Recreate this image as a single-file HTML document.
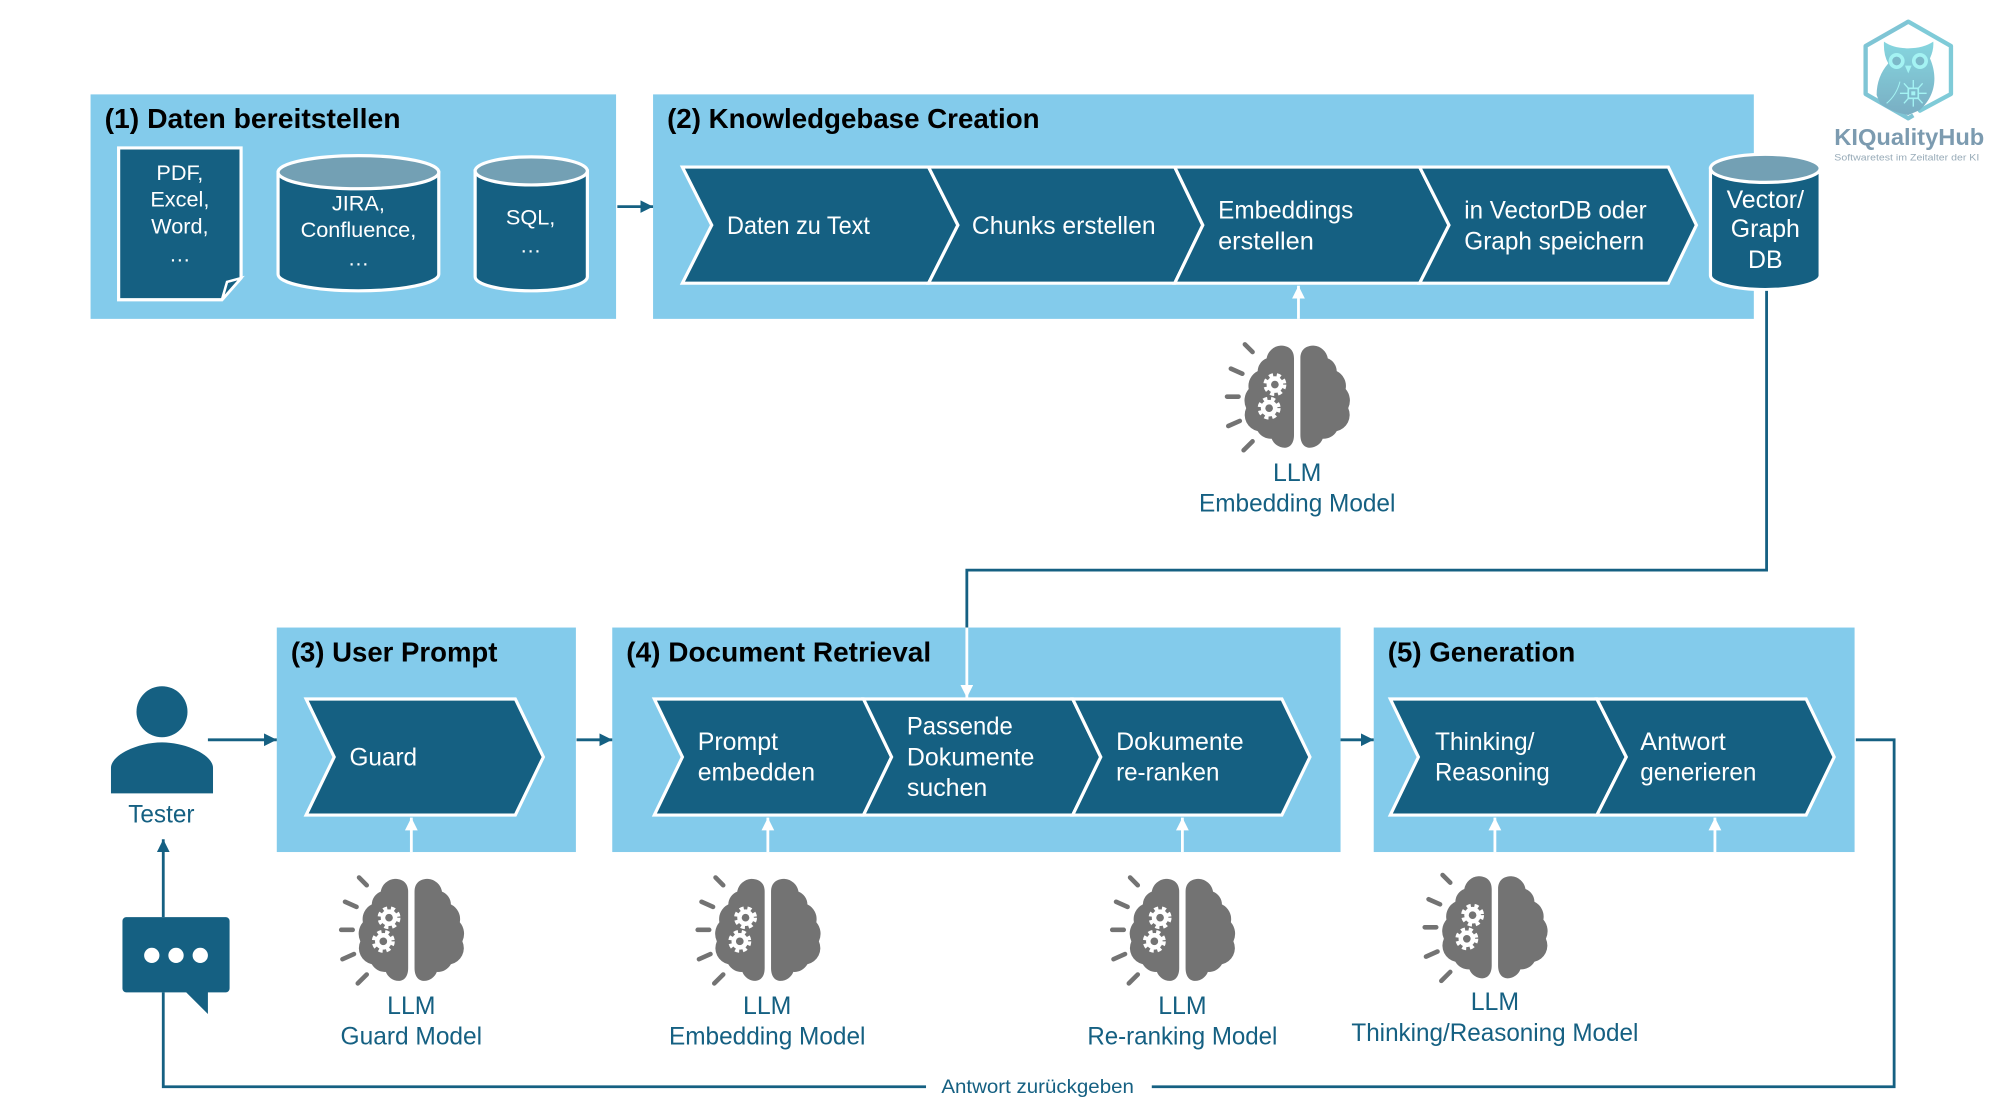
<!DOCTYPE html>
<html><head><meta charset="utf-8"><style>
html,body{margin:0;padding:0;background:#fff;width:2000px;height:1117px;overflow:hidden}
svg{display:block}
text{font-family:"Liberation Sans",sans-serif}
.t{font-weight:700;font-size:22px;fill:#000}
.w{font-size:19.5px;fill:#fff}
.s{font-size:17px;fill:#fff;text-anchor:middle}
.b{font-size:19.5px;fill:#156082;text-anchor:middle}
.c{fill:#156082;stroke:#fff;stroke-width:2.5}
.top{fill:#73A0B4;stroke:#fff;stroke-width:2.5}
.ln{fill:none;stroke:#156082;stroke-width:2.2}
.wl{fill:none;stroke:#fff;stroke-width:2.2}
</style></head><body>
<svg width="2000" height="1117" viewBox="0 0 1568 875.73" xmlns="http://www.w3.org/2000/svg">
<defs>
<marker id="ad" markerUnits="userSpaceOnUse" markerWidth="11" markerHeight="11" refX="10" refY="5" orient="auto"><path d="M0,0L10,5L0,10Z" fill="#156082"/></marker>
<marker id="aw" markerUnits="userSpaceOnUse" markerWidth="11" markerHeight="11" refX="10" refY="5" orient="auto"><path d="M0,0L10,5L0,10Z" fill="#fff"/></marker>
<linearGradient id="og" x1="0" y1="0" x2="0" y2="1"><stop offset="0" stop-color="#86d6df"/><stop offset="1" stop-color="#79aec3"/></linearGradient>
<g id="brain">
<path fill="#737373" d="M-2.5,-30C-2.5,-37 -7,-40 -13,-40A12,12 0 0 0 -24,-30A11,11 0 0 0 -31,-20A13,13 0 0 0 -38,-6A14,14 0 0 0 -40,9A13,13 0 0 0 -31,27A12,12 0 0 0 -20,33A11,11 0 0 0 -10,40C-6,40 -2.5,37 -2.5,30Z"/>
<path fill="#737373" d="M2.5,-30C2.5,-37 7,-40 13,-40A12,12 0 0 1 24,-30A11,11 0 0 1 31,-20A13,13 0 0 1 38,-6A14,14 0 0 1 40,9A13,13 0 0 1 31,27A12,12 0 0 1 20,33A11,11 0 0 1 10,40C6,40 2.5,37 2.5,30Z"/>
<g stroke="#737373" stroke-width="3.6" stroke-linecap="round">
<path d="M-41,-41L-35,-35M-52,-22L-43,-18M-55,0L-46,0M-54,23L-45,19M-42,42L-35,35"/>
</g>
<g fill="#fff"><circle cx="-17.5" cy="-9.5" r="6.5"/><circle cx="-22" cy="9" r="6.5"/></g>
<g fill="none" stroke="#fff" stroke-width="3" stroke-dasharray="3.2 2.9"><circle cx="-17.5" cy="-9.5" r="7.5"/><circle cx="-22" cy="9" r="7.5"/></g>
<g fill="#737373"><circle cx="-17.5" cy="-9.5" r="3"/><circle cx="-22" cy="9" r="3"/></g>
</g>
</defs>

<!-- panels -->
<g fill="#83CBEB">
<rect x="71" y="74" width="412" height="176"/>
<rect x="512" y="74" width="863" height="176"/>
<rect x="217" y="492" width="234.500" height="176"/>
<rect x="480" y="492" width="571" height="176"/>
<rect x="1077" y="492" width="377" height="176"/>
</g>

<text class="t" x="82" y="100.500" textLength="232" lengthAdjust="spacingAndGlyphs">(1) Daten bereitstellen</text>
<text class="t" x="523" y="100.500" textLength="292" lengthAdjust="spacingAndGlyphs">(2) Knowledgebase Creation</text>
<text class="t" x="228" y="518.500" textLength="162" lengthAdjust="spacingAndGlyphs">(3) User Prompt</text>
<text class="t" x="491" y="518.500" textLength="239" lengthAdjust="spacingAndGlyphs">(4) Document Retrieval</text>
<text class="t" x="1088" y="518.500" textLength="147" lengthAdjust="spacingAndGlyphs">(5) Generation</text>

<!-- data sources -->
<path class="c" d="M93,116H189V218L174,235H93Z"/>
<path d="M174,235L178,221L189,218Z" fill="#156082" stroke="#fff" stroke-width="2"/>
<text class="s" x="141" y="141">PDF,</text>
<text class="s" x="141" y="162">Excel,</text>
<text class="s" x="141" y="183">Word,</text>
<text class="s" x="141" y="205">…</text>

<path class="c" d="M218,135V215A63,13 0 0 0 344,215V135Z"/>
<ellipse class="top" cx="281" cy="135" rx="63" ry="13"/>
<text class="s" x="281" y="165">JIRA,</text>
<text class="s" x="281" y="186">Confluence,</text>
<text class="s" x="281" y="208">…</text>

<path class="c" d="M372.500,134V217A44,11 0 0 0 460.500,217V134Z"/>
<ellipse class="top" cx="416.500" cy="134" rx="44" ry="11"/>
<text class="s" x="416" y="176">SQL,</text>
<text class="s" x="416" y="198">…</text>

<path class="ln" d="M484,162H512" marker-end="url(#ad)"/>

<!-- chevrons box 2 -->
<path class="c" d="M535,131H728L751,176.500L728,222H535L558,176.500Z"/>
<path class="c" d="M728,131H921L943,176.500L921,222H728L751,176.500Z"/>
<path class="c" d="M921,131H1113L1136,176.500L1113,222H921L943,176.500Z"/>
<path class="c" d="M1113,131H1308L1330,176.500L1308,222H1113L1136,176.500Z"/>
<text class="w" x="570" y="183.500" textLength="112" lengthAdjust="spacingAndGlyphs">Daten zu Text</text>
<text class="w" x="762" y="183.500" textLength="144" lengthAdjust="spacingAndGlyphs">Chunks erstellen</text>
<text class="w" x="955" y="171.500" textLength="106" lengthAdjust="spacingAndGlyphs">Embeddings</text>
<text class="w" x="955" y="195.500" textLength="75" lengthAdjust="spacingAndGlyphs">erstellen</text>
<text class="w" x="1148" y="171.500" textLength="143" lengthAdjust="spacingAndGlyphs">in VectorDB oder</text>
<text class="w" x="1148" y="195.500" textLength="141" lengthAdjust="spacingAndGlyphs">Graph speichern</text>

<!-- vector db -->
<path class="c" d="M1341,132V216A43,11 0 0 0 1427,216V132Z"/>
<ellipse class="top" cx="1384" cy="132" rx="43" ry="11"/>
<text class="b" style="fill:#fff" x="1384" y="163">Vector/</text>
<text class="b" style="fill:#fff" x="1384" y="186">Graph</text>
<text class="b" style="fill:#fff" x="1384" y="210">DB</text>

<!-- db connector -->
<path class="ln" d="M1385,228V447H758V492"/>

<!-- box 3 -->
<path class="c" d="M240,548H404L426,593.500L404,639H240L262,593.500Z"/>
<text class="w" x="274" y="600" textLength="53" lengthAdjust="spacingAndGlyphs">Guard</text>

<!-- box 4 -->
<path class="c" d="M513,548H677L699,593.500L677,639H513L535,593.500Z"/>
<path class="c" d="M677,548H841L863,593.500L841,639H677L699,593.500Z"/>
<path class="c" d="M841,548H1005L1027,593.500L1005,639H841L863,593.500Z"/>
<text class="w" x="547" y="588" textLength="63" lengthAdjust="spacingAndGlyphs">Prompt</text>
<text class="w" x="547" y="612" textLength="92" lengthAdjust="spacingAndGlyphs">embedden</text>
<text class="w" x="711" y="576" textLength="83" lengthAdjust="spacingAndGlyphs">Passende</text>
<text class="w" x="711" y="600" textLength="100" lengthAdjust="spacingAndGlyphs">Dokumente</text>
<text class="w" x="711" y="624" textLength="63" lengthAdjust="spacingAndGlyphs">suchen</text>
<text class="w" x="875" y="588" textLength="100" lengthAdjust="spacingAndGlyphs">Dokumente</text>
<text class="w" x="875" y="612" textLength="81" lengthAdjust="spacingAndGlyphs">re-ranken</text>

<!-- box 5 -->
<path class="c" d="M1090,548H1252L1275,593.500L1252,639H1090L1112,593.500Z"/>
<path class="c" d="M1252,548H1416L1438,593.500L1416,639H1252L1275,593.500Z"/>
<text class="w" x="1125" y="588" textLength="78" lengthAdjust="spacingAndGlyphs">Thinking/</text>
<text class="w" x="1125" y="612" textLength="90" lengthAdjust="spacingAndGlyphs">Reasoning</text>
<text class="w" x="1286" y="588" textLength="67" lengthAdjust="spacingAndGlyphs">Antwort</text>
<text class="w" x="1286" y="612" textLength="91" lengthAdjust="spacingAndGlyphs">generieren</text>

<!-- white arrows -->
<path class="wl" d="M758,492V547" marker-end="url(#aw)"/>
<path class="wl" d="M1018,250V224" marker-end="url(#aw)"/>
<path class="wl" d="M322.500,668V641" marker-end="url(#aw)"/>
<path class="wl" d="M602,668V641" marker-end="url(#aw)"/>
<path class="wl" d="M927,668V641" marker-end="url(#aw)"/>
<path class="wl" d="M1172,668V641" marker-end="url(#aw)"/>
<path class="wl" d="M1344.500,668V641" marker-end="url(#aw)"/>

<!-- brains -->
<use href="#brain" x="1017" y="311"/>
<use href="#brain" x="322.500" y="729"/>
<use href="#brain" x="602" y="729"/>
<use href="#brain" x="927" y="729"/>
<use href="#brain" x="1172" y="727"/>

<text class="b" x="1017" y="377">LLM</text>
<text class="b" x="1017" y="401" textLength="154" lengthAdjust="spacingAndGlyphs">Embedding Model</text>
<text class="b" x="322.500" y="795">LLM</text>
<text class="b" x="322.500" y="819" textLength="111" lengthAdjust="spacingAndGlyphs">Guard Model</text>
<text class="b" x="601.500" y="795">LLM</text>
<text class="b" x="601.500" y="819" textLength="154" lengthAdjust="spacingAndGlyphs">Embedding Model</text>
<text class="b" x="927" y="795">LLM</text>
<text class="b" x="927" y="819" textLength="149" lengthAdjust="spacingAndGlyphs">Re-ranking Model</text>
<text class="b" x="1172" y="792">LLM</text>
<text class="b" x="1172" y="816" textLength="225" lengthAdjust="spacingAndGlyphs">Thinking/Reasoning Model</text>

<!-- flow arrows -->
<path class="ln" d="M163,580H217" marker-end="url(#ad)"/>
<path class="ln" d="M452,580H480" marker-end="url(#ad)"/>
<path class="ln" d="M1051,580H1077" marker-end="url(#ad)"/>

<!-- tester -->
<circle cx="127" cy="558" r="20" fill="#156082"/>
<path d="M87,622V602C87,592 108,582 127,582C146,582 167,592 167,602V622Z" fill="#156082"/>
<text class="b" x="126.500" y="645" textLength="52" lengthAdjust="spacingAndGlyphs">Tester</text>
<path class="ln" d="M128,719V658" marker-end="url(#ad)"/>
<path d="M99,719H177A3,3 0 0 1 180,722V775A3,3 0 0 1 177,778H163V795L146,778H99A3,3 0 0 1 96,775V722A3,3 0 0 1 99,719Z" fill="#156082"/>
<g fill="#fff"><circle cx="119" cy="749" r="6"/><circle cx="138" cy="749" r="6"/><circle cx="157" cy="749" r="6"/></g>

<!-- return line -->
<path class="ln" d="M128,778V852H726M903,852H1485V580H1455"/>
<text x="738" y="857" font-size="15" fill="#156082" textLength="151" lengthAdjust="spacingAndGlyphs">Antwort zurückgeben</text>

<!-- logo -->
<g transform="translate(1395.500,0) scale(.2613)">
<path d="M385,65L513,138V282L420,332" fill="none" stroke="#7fcbd8" stroke-width="13" stroke-linejoin="round" stroke-linecap="round"/>
<path d="M400,346L385,355L257,282V138L385,65" fill="none" stroke="#7fc5d5" stroke-width="13" stroke-linejoin="round"/>
<path d="M312,125Q340,145 385,145Q430,145 460,125Q462,150 450,175C472,225 470,285 420,330L385,345Q330,335 300,310L290,285Q290,230 325,190Q310,165 312,125Z" fill="url(#og)"/>
<circle cx="350" cy="183" r="24" fill="#a4f3f3"/><circle cx="350" cy="183" r="13" fill="#7cb8c8"/>
<circle cx="420" cy="183" r="24" fill="#a4f3f3"/><circle cx="420" cy="183" r="13" fill="#7cb8c8"/>
<path d="M375,197L395,197L385,220Z" fill="#a4f3f3"/>
<path d="M400,240V265M400,295V320M385,280H360M415,280H440M388,268L372,250M412,268L428,250M388,292L372,310M412,292L428,310" stroke="#a4f3f3" stroke-width="4" fill="none"/>
<rect x="385" y="265" width="30" height="30" fill="none" stroke="#a4f3f3" stroke-width="5"/>
<rect x="394" y="274" width="12" height="12" fill="#a4f3f3"/>
<path d="M320,310Q350,285 360,245" stroke="#a4f3f3" stroke-width="3" fill="none"/>
<text x="163" y="435" font-size="70" font-weight="700" fill="#7c9bb0" textLength="450" lengthAdjust="spacingAndGlyphs">KIQualityHub</text>
<text x="163" y="482" font-size="27" fill="#98abb8" textLength="435" lengthAdjust="spacingAndGlyphs">Softwaretest im Zeitalter der KI</text>
</g>
</svg>
</body></html>
